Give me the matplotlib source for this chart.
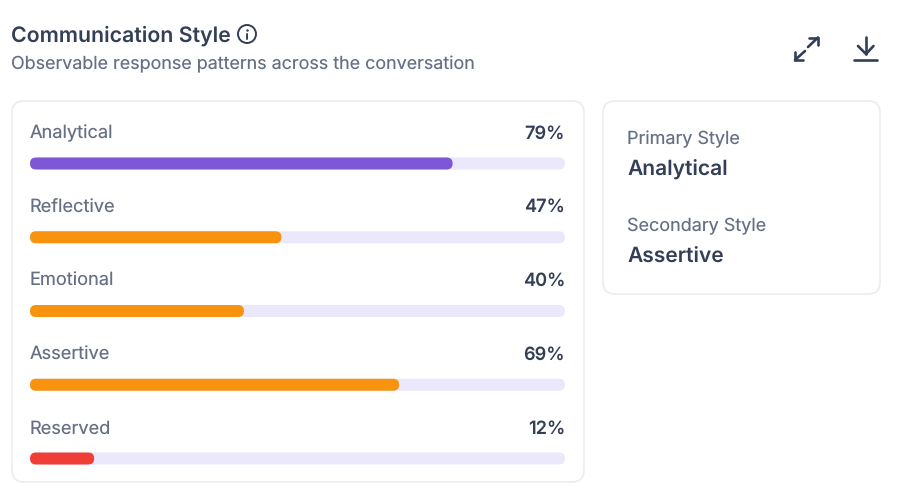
import matplotlib
matplotlib.use('Agg')
import matplotlib.pyplot as plt
from matplotlib.patches import FancyBboxPatch, Circle

plt.rcParams['font.family'] = ['Inter', 'DejaVu Sans']
plt.rcParams['text.hinting'] = 'no_hinting'

categories = ['Analytical', 'Reflective', 'Emotional', 'Assertive', 'Reserved']
values = [79, 47, 40, 69, 12]
bar_colors = ['#7E57D6', '#F7930E', '#F7930E', '#F7930E', '#EF3E36']

DARK = '#333F56'
GREY = '#667085'
TRACK = '#EBE8FC'
BORDER = '#EBECF1'

# font size given in image pixels
def px(size):
    return size * 72 / 100

def rounded(ax, x0, y0, x1, y1, r, **kw):
    p = FancyBboxPatch((x0 + r, y0 + r), x1 - x0 - 2 * r, y1 - y0 - 2 * r,
                       boxstyle='round,pad=%f,rounding_size=%f' % (r, r), **kw)
    ax.add_patch(p)

def arrow(ax, pts, lw=1.9):
    xs, ys = zip(*pts)
    ax.plot(xs, ys, color=DARK, lw=lw, solid_capstyle='round', solid_joinstyle='miter')

fig = plt.figure(figsize=(9.01, 5.01), dpi=100, facecolor='white')
ax = fig.add_axes([0, 0, 1, 1])
ax.set_xlim(0, 901)
ax.set_ylim(501, 0)
ax.axis('off')

# header
ax.text(11, 41.5, 'Communication Style', fontsize=px(21.3), fontweight=600, color=DARK, va='baseline')
ax.text(11, 69, 'Observable response patterns across the conversation', fontsize=px(17.9), color=GREY, va='baseline')

# info icon
ax.add_patch(Circle((247, 34), 9, fill=False, ec=DARK, lw=1.4))
ax.plot([247, 247], [33.5, 38.5], color=DARK, lw=1.4, solid_capstyle='round')
ax.plot([247], [29.8], 'o', color=DARK, ms=1.8, mew=0)

# expand icon
arrow(ax, [(808, 47), (818, 37.5)])
arrow(ax, [(809, 37.5), (818, 37.5), (818, 45)])
arrow(ax, [(795, 60), (805, 51)])
arrow(ax, [(795, 52), (795, 60), (803, 60)])

# download icon
arrow(ax, [(866, 37), (866, 54)])
arrow(ax, [(858, 46), (866, 54), (873.5, 46)])
arrow(ax, [(854, 59.5), (877, 59.5)])

# cards
rounded(ax, 12, 101, 584, 482, 12, fc='white', ec=BORDER, lw=1.2)
rounded(ax, 603, 101, 880, 294, 12, fc='white', ec=BORDER, lw=1.2)

# bars
bar_left = 30
bar_width = 535
for i, (name, val, col) in enumerate(zip(categories, values, bar_colors)):
    y = 138.5 + i * 73.75
    ax.text(bar_left, y, name, fontsize=px(18.2), color=GREY, va='baseline')
    ax.text(bar_left + bar_width, y, '%d%%' % val, fontsize=px(18.2), fontweight=600,
            color=DARK, va='baseline', ha='right')
    bar_y = y + 19
    rounded(ax, bar_left, bar_y, bar_left + bar_width, bar_y + 12, 6, fc=TRACK, ec='none')
    rounded(ax, bar_left, bar_y, bar_left + bar_width * val / 100, bar_y + 12, 6, fc=col, ec='none')

# side card
ax.text(627, 144.5, 'Primary Style', fontsize=px(18), color=GREY, va='baseline')
ax.text(627, 175, categories[0], fontsize=px(21), fontweight=600, color=DARK, va='baseline')
ax.text(627, 231.5, 'Secondary Style', fontsize=px(18), color=GREY, va='baseline')
ax.text(627, 262, categories[3], fontsize=px(21), fontweight=600, color=DARK, va='baseline')

fig.savefig('out.png', dpi=100, facecolor='white')
